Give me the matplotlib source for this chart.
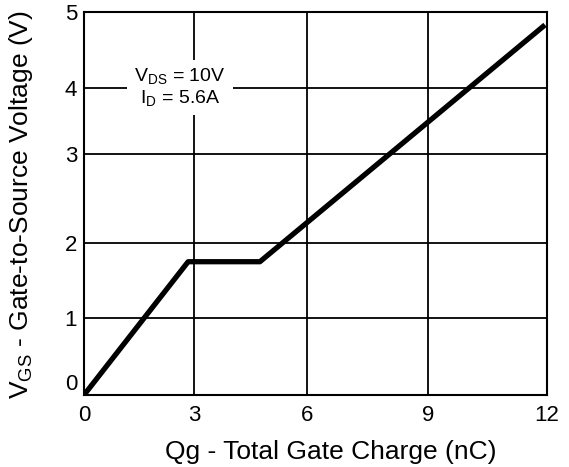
import matplotlib
matplotlib.use('Agg')
import matplotlib.pyplot as plt
import matplotlib.transforms as mtransforms
import numpy as np

# gate charge curve
qg = [0, 2.84, 4.75, 11.95]
vgs = [0, 1.75, 1.75, 4.83]

x_ticks = [0, 3, 6, 9, 12]
y_ticks = [0, 1, 2, 3, 4, 5]
note = "V$_{\\mathrm{DS}}$ = 10V\nI$_{\\mathrm{D}}$ = 5.6A"

# the printed grid is not evenly spaced, so map tick values onto their drawn positions
x_pos = [0, 0.2376, 0.4816, 0.743, 1.0]
y_pos = [0, 0.201, 0.397, 0.629, 0.802, 1.0]

plt.rcParams['font.family'] = ['Liberation Sans', 'DejaVu Sans']
plt.rcParams['mathtext.fontset'] = 'custom'
plt.rcParams['mathtext.rm'] = 'Liberation Sans'

fig = plt.figure(figsize=(5.69, 4.67), dpi=100)
ax = fig.add_axes([84/569, 72/467, 463/569, 383/467])

ax.set_xscale('function', functions=(lambda v: np.interp(v, x_ticks, x_pos),
                                     lambda p: np.interp(p, x_pos, x_ticks)))
ax.set_yscale('function', functions=(lambda v: np.interp(v, y_ticks, y_pos),
                                     lambda p: np.interp(p, y_pos, y_ticks)))
ax.set_xlim(0, 12)
ax.set_ylim(0, 5)
ax.set_xticks(x_ticks)
ax.set_yticks(y_ticks)
ax.set_xticklabels([str(t) for t in x_ticks], fontsize=16)
ax.set_yticklabels([str(t) for t in y_ticks], fontsize=16)
ax.tick_params(length=0, pad=5)
ax.tick_params(axis='x', pad=7)

# the 0 label sits a bit above the axis line in the original
lab0 = ax.get_yticklabels()[0]
lab0.set_transform(lab0.get_transform() + mtransforms.ScaledTranslation(0, 13/100, fig.dpi_scale_trans))

ax.grid(True, color='black', linewidth=1.3)
ax.set_axisbelow(True)
for s in ax.spines.values():
    s.set_linewidth(1.5)

ax.plot(qg, vgs, color='black', linewidth=3.8, solid_capstyle='butt', zorder=3)

ax.text(2.62, 4.0, note, fontsize=14, ha='center', va='center', linespacing=1.05,
        bbox=dict(boxstyle='square,pad=0.35', facecolor='white', edgecolor='none'), zorder=4)

ax.set_xlabel('Qg - Total Gate Charge (nC)', fontsize=19)
ax.xaxis.set_label_coords(0.532, -0.118)
ax.set_ylabel('V$_{\\mathrm{GS}}$ - Gate-to-Source Voltage (V)', fontsize=19)
ax.yaxis.set_label_coords(-0.106, 0.498)

fig.savefig('out.png', dpi=100)
